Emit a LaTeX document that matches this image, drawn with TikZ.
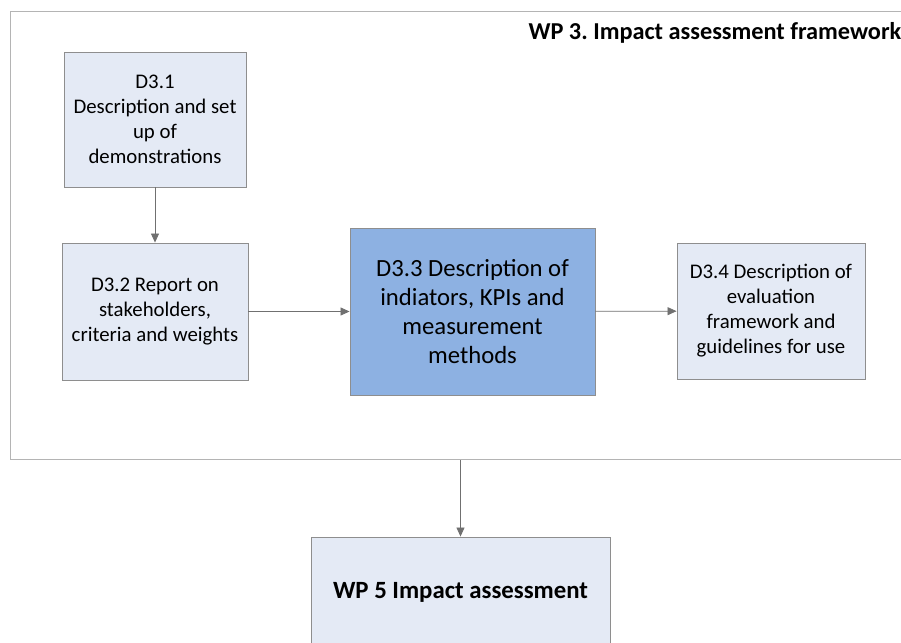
\documentclass[tikz,border=0pt]{standalone}
\usepackage{fontspec}
\setmainfont{Carlito}
\usepackage{xcolor}
\usetikzlibrary{arrows.meta,positioning,calc}
\definecolor{BoxFill}{HTML}{E4EAF5}
\definecolor{KeyFill}{HTML}{8DB1E2}
\definecolor{BoxLine}{HTML}{8E8E8E}
\definecolor{FrameLine}{HTML}{B4B4B4}
\definecolor{ArrowLine}{HTML}{707070}
\frenchspacing
\tikzset{
  delivbox/.style={draw=BoxLine, fill=BoxFill, line width=0.9pt, align=center, inner sep=0pt, font=\fontsize{20.8}{25}\selectfont},
  keybox/.style={draw=BoxLine, fill=KeyFill, line width=0.9pt, align=center, inner sep=0pt, font=\fontsize{24.7}{29}\selectfont},
  wpbox/.style={draw=BoxLine, fill=BoxFill, line width=0.9pt, align=center, inner sep=0pt, font=\fontsize{24.8}{29}\selectfont\bfseries},
  frame/.style={draw=FrameLine, line width=1.2pt, inner sep=0pt},
  arrow/.style={-{Triangle[length=9pt, width=8pt]}, line width=0.8pt, draw=ArrowLine}
}

\begin{document}
\begin{tikzpicture}[x=1pt, y=-1pt]
    \useasboundingbox (0,0) rectangle (901,642);
    \clip (0,0) rectangle (901,642);
    \node[frame, minimum width=902, minimum height=448, anchor=north west] (wp3) at (10,11) {};
    \node[anchor=base west, font=\fontsize{24.3}{29}\selectfont\bfseries] (title) at (525,39.5) {WP 3. Impact assessment framework};
    \node[delivbox, minimum width=182, minimum height=135] (d31) at (155,119.5) {D3.1\\Description and set\\up of\\demonstrations};
    \node[delivbox, minimum width=186, minimum height=137] (d32) at (155,311.5) {D3.2 Report on\\stakeholders,\\criteria and weights};
    \node[keybox, minimum width=245, minimum height=167] (d33) at (472.5,311.5) {D3.3 Description of\\indiators, KPIs and\\measurement\\methods};
    \node[delivbox, minimum width=188, minimum height=136] (d34) at (771,311) {D3.4 Description of\\evaluation\\framework and\\guidelines for use};
    \node[wpbox, minimum width=299, minimum height=110] (wp5) at (460.5,592) {WP 5 Impact assessment};

    \draw[arrow] (d31) -- (d32);
    \draw[arrow] (d32) -- (d33);
    \draw[arrow] (d33) -- (d34);
    \draw[arrow] (wp3.south -| wp5.north) -- (wp5);
  \end{tikzpicture}
\end{document}
